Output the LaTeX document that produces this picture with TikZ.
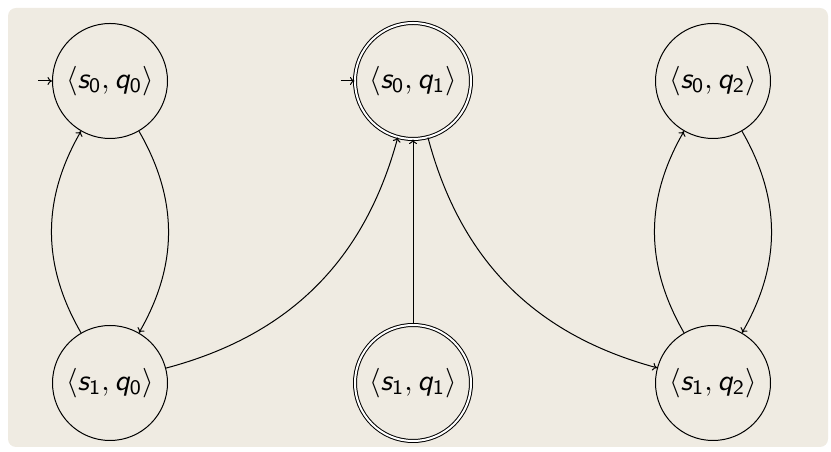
\documentclass[tikz,border=0pt]{standalone}
\usepackage{graphicx}
\usetikzlibrary{arrows.meta}
\DeclareMathAlphabet{\mathsfit}{OT1}{cmss}{m}{sl}
\definecolor{bgbeige}{RGB}{239,235,226}
\newcommand{\stlabel}[2]{\scalebox{2.95}{$\langle \mathsfit{s}_{\mathsf{#1}}, \mathsfit{q}_{\mathsf{#2}} \rangle$}}
\tikzset{
  state/.style={circle, draw, line width=1pt, minimum size=115pt, inner sep=0pt},
  accstate/.style={state, double, double distance=2pt, minimum size=116pt},
  edge/.style={line width=1pt, -{To[length=4.5pt,width=8pt]}},
  every to/.style={bend angle=30}
}
\begin{document}
\begin{tikzpicture}[x=1pt,y=1pt]
\useasboundingbox (0,0) rectangle (831,452);
\fill[bgbeige, rounded corners=8pt] (8,5) rectangle (828,444);
\node[state] (n00) at (110,371) {\stlabel{0}{0}};
\node[accstate] (n01) at (413,371) {\stlabel{0}{1}};
\node[state] (n02) at (713,371) {\stlabel{0}{2}};
\node[state] (n10) at (110,69) {\stlabel{1}{0}};
\node[accstate] (n11) at (413,69) {\stlabel{1}{1}};
\node[state] (n12) at (713,69) {\stlabel{1}{2}};
\coordinate (i0) at ([xshift=-14pt]n00.west);
\coordinate (i1) at ([xshift=-14pt]n01.west);
\draw[edge] (i0) -- (n00);
\draw[edge] (i1) -- (n01);
\draw[edge] (n00) to[bend left] (n10);
\draw[edge] (n10) to[bend left] (n00);
\draw[edge] (n10) to[bend right] (n01);
\draw[edge] (n11) -- (n01);
\draw[edge] (n01) to[bend right] (n12);
\draw[edge] (n02) to[bend left] (n12);
\draw[edge] (n12) to[bend left] (n02);
\end{tikzpicture}
\end{document}
